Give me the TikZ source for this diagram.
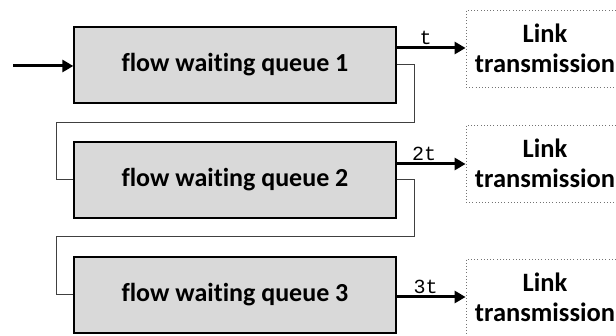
\documentclass[tikz,border=0pt]{standalone}
\usepackage{fontspec}
\setmainfont{Carlito}[Ligatures=NoCommon]
\newfontfamily\lblfont{Liberation Mono}
\usetikzlibrary{arrows.meta}
\definecolor{qfill}{HTML}{D9D9D9}
\begin{document}
\begin{tikzpicture}[x=1pt,y=-1pt,
  queue/.style={draw=black, line width=1.3pt, fill=qfill, minimum width=322pt, minimum height=76pt, inner sep=0pt,
    font=\bfseries\fontsize{26}{30}\selectfont},
  linkbox/.style={draw=black!55, line width=0.8pt, dash pattern=on 0.8pt off 2.4pt, minimum width=158pt, minimum height=77pt,
    inner sep=0pt, align=center, font=\bfseries\fontsize{26.5}{30}\selectfont},
  outarrow/.style={line width=3pt, -{Triangle[length=11pt,width=12pt]}},
  fb/.style={draw=black!75, line width=1pt},
  lbl/.style={font=\lblfont\fontsize{20}{20}\selectfont, inner sep=1.5pt, above}
]
\useasboundingbox (0,0) rectangle (616,336);
\node[queue] (q1) at (235,65) {flow waiting queue 1};
\node[queue] (q2) at (235,180) {flow waiting queue 2};
\node[queue] (q3) at (235,295) {flow waiting queue 3};
\node[linkbox] (l1) at (545,48.5) {Link\\transmission};
\node[linkbox] (l2) at (545,163.5) {Link\\transmission};
\node[linkbox] (l3) at (545,297.5) {Link\\transmission};
\coordinate (in) at (13,66);
\draw[outarrow] (in) -- (in -| q1.west);
\draw[outarrow] ([yshift=17pt]q1.east) -- node[lbl, pos=0.42] {t} ([yshift=17pt]q1.east -| l1.west);
\draw[outarrow] ([yshift=16pt]q2.east) -- node[lbl, pos=0.4] {2t} ([yshift=16pt]q2.east -| l2.west);
\draw[outarrow] ([yshift=-2pt]q3.east) -- node[lbl, pos=0.42] {3t} ([yshift=-2pt]q3.east -| l3.west);
\draw[fb] (q1.east) -- ++(18,0) |- (56,123) |- (q2.west);
\draw[fb] (q2.east) -- ++(18,0) |- (56,237) |- (q3.west);
\end{tikzpicture}
\end{document}
